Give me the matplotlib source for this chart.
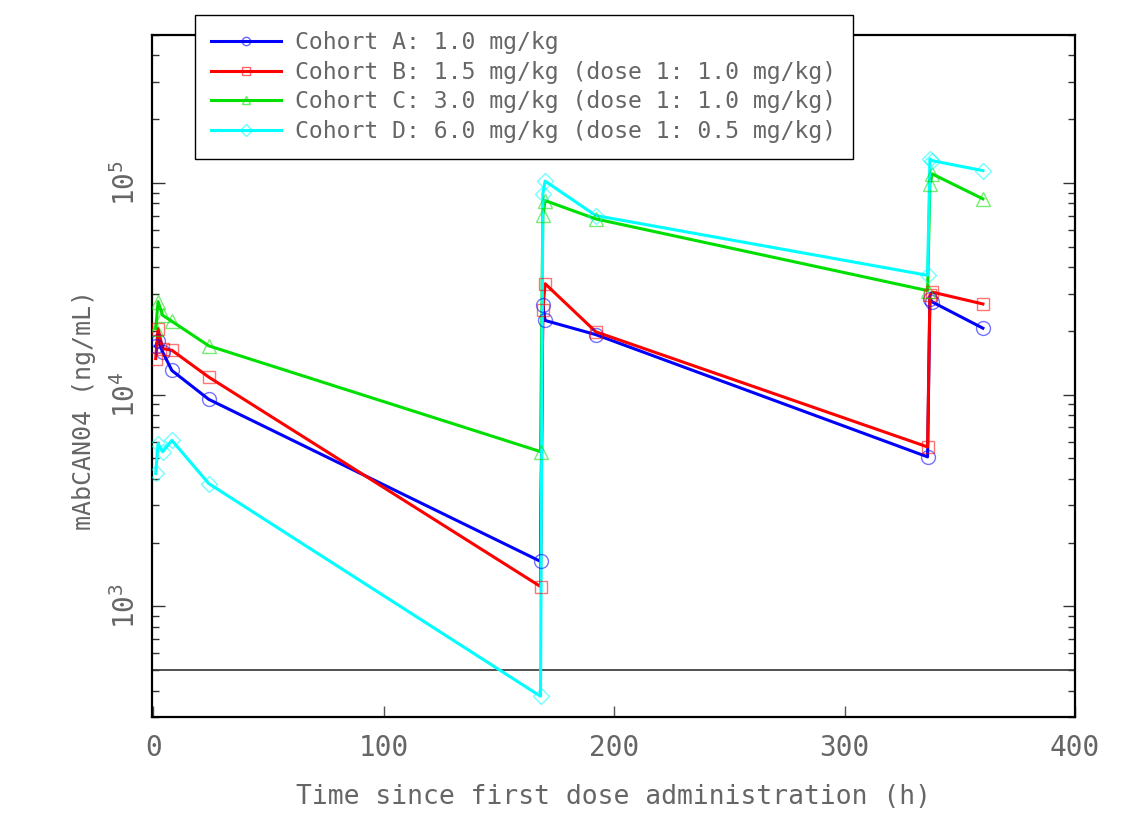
import numpy as np
import matplotlib
matplotlib.use('Agg')
import matplotlib.pyplot as plt
from matplotlib.lines import Line2D
from matplotlib.legend_handler import HandlerLine2D
from matplotlib.ticker import LogLocator, LogFormatterMathtext

plt.rcParams['font.family'] = ['DejaVu Sans Mono', 'DejaVu Sans']
plt.rcParams['mathtext.fontset'] = 'custom'
plt.rcParams['mathtext.rm'] = 'DejaVu Sans Mono'
plt.rcParams['mathtext.default'] = 'regular'

# Часові точки (год)
time_h = [1, 2, 4, 8, 24, 168, 169, 170, 192, 336, 337, 338, 360]

# Концентрації (нг/мл) по когортах
conc_a = [17000, 18000, 15900, 13000, 9500, 1630, 26400, 22400, 19200, 5080, 28400, 27400, 20600]
conc_b = [14800, 20500, 16500, 16200, 12100, 1240, 25000, 33400, 19800, 5660, 29500, 30500, 26800]
conc_c = [20500, 27500, 23700, 22200, 17000, 5380, 70200, 82500, 67600, 31000, 98900, 110300, 84100]
conc_d = [4240, 5870, 5370, 6080, 3800, 376, 88700, 102000, 70100, 36600, 129800, 127400, 114300]

labels = ['Cohort A: 1.0 mg/kg',
          'Cohort B: 1.5 mg/kg (dose 1: 1.0 mg/kg)',
          'Cohort C: 3.0 mg/kg (dose 1: 1.0 mg/kg)',
          'Cohort D: 6.0 mg/kg (dose 1: 0.5 mg/kg)']
colors = ['#0000ff', '#ff0000', '#00e000', '#00ffff']
markers = ['o', 's', '^', 'D']
msizes = [10, 9, 10, 8]

lloq = 500

text_col = '#666666'


class LeftMarker(HandlerLine2D):
    # маркер ближче до лівого краю лінії
    def get_xdata(self, legend, xdescent, ydescent, width, height, fontsize):
        xdata = np.array([-xdescent, -xdescent + width])
        return xdata, np.array([-xdescent + 0.1 * width])


fig = plt.figure(figsize=(11.23, 8.13), dpi=100)
ax = fig.add_axes([0.1354, 0.1181, 0.8219, 0.8389])

handles = []
for y, c, m, ms, lab in zip([conc_a, conc_b, conc_c, conc_d], colors, markers, msizes, labels):
    ax.plot(time_h, y, color=c, lw=2.2, zorder=3)
    ax.plot(time_h, y, linestyle='none', marker=m, ms=ms, mfc='none',
            mec=matplotlib.colors.to_rgba(c, 0.55), mew=1.0, zorder=4)
    handles.append(Line2D([], [], color=c, lw=2.2, marker=m, ms=6, mfc='none',
                          mec=matplotlib.colors.to_rgba(c, 0.6), mew=1.0))

ax.axhline(lloq, color='#333333', lw=1.2, zorder=2)

ax.set_yscale('log')
ax.set_xlim(-0.6, 400)
ax.set_ylim(300, 5e5)
ax.set_xticks([0, 100, 200, 300, 400])
ax.yaxis.set_major_locator(LogLocator(base=10))
ax.yaxis.set_minor_locator(LogLocator(base=10, subs=np.arange(2, 10)))
ax.yaxis.set_major_formatter(LogFormatterMathtext())

ax.tick_params(axis='x', which='both', direction='in', length=8, width=1,
               colors='#555555', labelcolor=text_col, labelsize=20, pad=12, top=False)
ax.tick_params(axis='y', which='major', direction='in', length=9, width=1,
               color='#333333', labelcolor=text_col, labelsize=20, right=True, pad=8)
ax.tick_params(axis='y', which='minor', direction='in', length=5, width=1,
               color='#333333', right=True)
for lbl in ax.get_yticklabels():
    lbl.set_rotation(90)
    lbl.set_va('center')

for sp in ax.spines.values():
    sp.set_linewidth(1.6)
    sp.set_color('black')

ax.set_xlabel('Time since first dose administration (h)', fontsize=19,
              color=text_col, labelpad=16)
ax.set_ylabel('mAbCAN04 (ng/mL)', fontsize=18, color=text_col)
ax.yaxis.set_label_coords(-0.061, 0.45)

leg = ax.legend(handles, labels, loc='upper left', bbox_to_anchor=(0.0466, 1.029),
                borderaxespad=0, fontsize=16.7, frameon=True, fancybox=False,
                edgecolor='black', framealpha=1, handlelength=3.0,
                handletextpad=0.63, labelspacing=0.28, borderpad=0.7,
                handler_map={Line2D: LeftMarker(numpoints=1)})
leg.get_frame().set_linewidth(1.0)
leg.set_zorder(10)
for t in leg.get_texts():
    t.set_color(text_col)

plt.savefig('out.png', dpi=100)
